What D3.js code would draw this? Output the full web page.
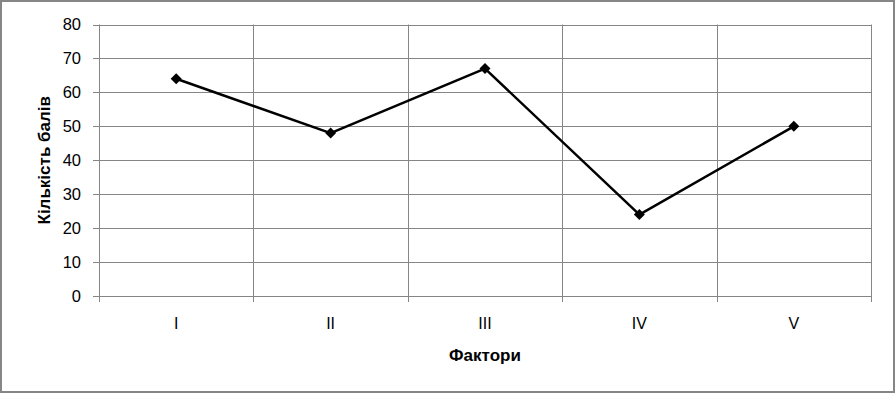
<!DOCTYPE html>
<html>
<head>
<meta charset="utf-8">
<script src="https://cdn.jsdelivr.net/npm/d3@7"></script>
<style>
  html, body { margin: 0; padding: 0; background: #fff; }
  svg { display: block; }
  text { font-family: "Liberation Sans", Arial, sans-serif; fill: #000; }
</style>
</head>
<body>
<svg width="895" height="393"></svg>
<script>
var categories = ["I", "II", "III", "IV", "V"];
var values = [64, 48, 67, 24, 50];
var yTicks = [0, 10, 20, 30, 40, 50, 60, 70, 80];
var xTitle = "Фактори";
var yTitle = "Кількість балів";

var svg = d3.select("svg"),
    width = 895,
    height = 393,
    margin = {left: 99, right: 24, top: 24.5, bottom: 97};

var gridColor = "#868686";

// outer frame
svg.append("rect")
    .attr("x", 1).attr("y", 1)
    .attr("width", width - 2).attr("height", height - 2)
    .attr("fill", "#fff")
    .attr("stroke", gridColor)
    .attr("stroke-width", 2);

var x = d3.scaleBand()
    .domain(categories)
    .range([margin.left, width - margin.right]);

var y = d3.scaleLinear()
    .domain([0, 80])
    .range([height - margin.bottom, margin.top]);

var g = svg.append("g");

// horizontal gridlines + y ticks
g.selectAll(".hgrid")
  .data(yTicks).enter()
  .append("line")
    .attr("x1", margin.left - 6)
    .attr("x2", width - margin.right)
    .attr("y1", function(d) { return Math.round(y(d)) + 0.5; })
    .attr("y2", function(d) { return Math.round(y(d)) + 0.5; })
    .attr("stroke", gridColor)
    .attr("stroke-width", 1);

// vertical gridlines at band edges
var edges = categories.map(function(c) { return x(c); }).concat([x.range()[1]]);
g.selectAll(".vgrid")
  .data(edges).enter()
  .append("line")
    .attr("x1", function(d) { return Math.round(d) + 0.5; })
    .attr("x2", function(d) { return Math.round(d) + 0.5; })
    .attr("y1", y(80))
    .attr("y2", y(0) + 6)
    .attr("stroke", gridColor)
    .attr("stroke-width", 1);

// y tick labels
g.selectAll(".ylab")
  .data(yTicks).enter()
  .append("text")
    .attr("x", margin.left - 18)
    .attr("y", function(d) { return y(d); })
    .attr("dy", "0.36em")
    .attr("text-anchor", "end")
    .style("font-size", "16.5px")
    .text(function(d) { return d; });

// x tick labels
g.selectAll(".xlab")
  .data(categories).enter()
  .append("text")
    .attr("x", function(d) { return x(d) + x.bandwidth() / 2; })
    .attr("y", 329)
    .attr("text-anchor", "middle")
    .style("font-size", "16px")
    .text(function(d) { return d; });

// axis titles
svg.append("text")
    .attr("x", (margin.left + width - margin.right) / 2)
    .attr("y", 361)
    .attr("text-anchor", "middle")
    .style("font-size", "17px")
    .style("font-weight", "bold")
    .text(xTitle);

svg.append("text")
    .attr("transform", "translate(50," + ((margin.top + height - margin.bottom) / 2) + ") rotate(-90)")
    .attr("text-anchor", "middle")
    .style("font-size", "17px")
    .style("font-weight", "bold")
    .text(yTitle);

// line
var line = d3.line()
    .x(function(d, i) { return x(categories[i]) + x.bandwidth() / 2; })
    .y(function(d) { return y(d); });

g.append("path")
    .datum(values)
    .attr("fill", "none")
    .attr("stroke", "#000")
    .attr("stroke-width", 2.5)
    .attr("stroke-linejoin", "round")
    .attr("d", line);

// diamond markers
g.selectAll(".marker")
  .data(values).enter()
  .append("path")
    .attr("transform", function(d, i) {
      return "translate(" + (x(categories[i]) + x.bandwidth() / 2) + "," + y(d) + ")";
    })
    .attr("d", "M0,-5.5L5.5,0L0,5.5L-5.5,0Z")
    .attr("fill", "#000");
</script>
</body>
</html>
